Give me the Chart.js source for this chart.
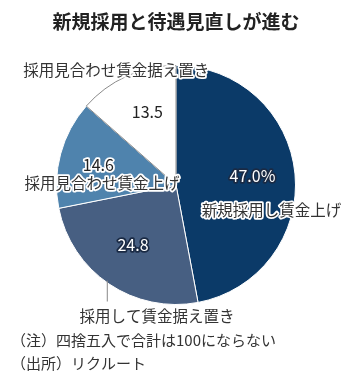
<!DOCTYPE html>
<html>
<head>
<meta charset="utf-8">
<script src="https://cdn.jsdelivr.net/npm/chart.js@4"></script>
<style>
  html, body { margin: 0; padding: 0; background: #fff; }
  #wrap { position: relative; width: 353px; height: 377px; }
  canvas { position: absolute; left: 0; top: 0; }
</style>
</head>
<body>
<div id="wrap"><canvas id="pie" width="353" height="377"></canvas></div>
<script>
const title = "新規採用と待遇見直しが進む";
const categories = ["新規採用し賃金上げ", "採用して賃金据え置き", "採用見合わせ賃金上げ", "採用見合わせ賃金据え置き"];
const values = [47.0, 24.8, 14.6, 13.5];
const valueLabels = ["47.0%", "24.8", "14.6", "13.5"];
const notes = ["（注）四捨五入で合計は100にならない", "（出所）リクルート"];

const colors = ["#0b3a68", "#475f82", "#4f83ad", "#ffffff"];
const edgeColors = ["#ffffff", "#ffffff", "#ffffff", "#8a8a8a"];

// label placement, in units of the pie radius from its centre
const valuePos = [[0.64, -0.08], [-0.36, 0.50], [-0.65, -0.17], [-0.24, -0.61]];
const namePos = [[0.80, 0.21], [-0.16, 1.10], [-0.62, -0.02], [-0.50, -0.96]];
// value text: [fill, outline]
const valueStyle = [["#fff", "#1a2a44"], ["#fff", "#1a2a44"], ["#222", "#fff"], ["#222", null]];
const leaders = [null, [[-0.575, 0.80], [-0.575, 0.975]], null, null];

const font = "'Noto Sans CJK JP', 'Noto Sans', sans-serif";

function haloText(c, text, x, y, fill, stroke, size, weight) {
  c.font = (weight || "normal") + " " + size + "px " + font;
  c.textAlign = "center";
  c.textBaseline = "middle";
  if (stroke) {
    c.lineJoin = "round";
    c.lineWidth = 3.5;
    c.strokeStyle = stroke;
    c.strokeText(text, x, y);
  }
  c.fillStyle = fill;
  c.fillText(text, x, y);
}

const labelPlugin = {
  id: "labels",
  afterDraw(chart) {
    const c = chart.ctx;
    const arcs = chart.getDatasetMeta(0).data;
    const cx = arcs[0].x, cy = arcs[0].y, r = arcs[0].outerRadius;
    c.save();
    leaders.forEach((l) => {
      if (!l) return;
      c.beginPath();
      c.strokeStyle = "#888";
      c.lineWidth = 1;
      c.moveTo(cx + l[0][0] * r, cy + l[0][1] * r);
      c.lineTo(cx + l[1][0] * r, cy + l[1][1] * r);
      c.stroke();
    });
    categories.forEach((name, i) => {
      haloText(c, name, cx + namePos[i][0] * r, cy + namePos[i][1] * r, "#333", "#fff", 15.5);
    });
    valueLabels.forEach((v, i) => {
      haloText(c, v, cx + valuePos[i][0] * r, cy + valuePos[i][1] * r, valueStyle[i][0], valueStyle[i][1], 16);
    });
    haloText(c, title, 176, 22, "#222", null, 19, "bold");
    notes.forEach((t, i) => {
      c.font = "15px " + font;
      c.fillStyle = "#333";
      c.textAlign = "left";
      c.fillText(t, 11, 340 + i * 23);
    });
    c.restore();
  }
};

new Chart(document.getElementById("pie"), {
  type: "pie",
  data: {
    labels: categories,
    datasets: [{
      data: values,
      backgroundColor: colors,
      borderColor: edgeColors,
      borderWidth: 1
    }]
  },
  options: {
    responsive: false,
    animation: false,
    layout: { padding: { left: 56, right: 57, top: 65, bottom: 72 } },
    plugins: { legend: { display: false }, tooltip: { enabled: false } }
  },
  plugins: [labelPlugin]
});
</script>
</body>
</html>
